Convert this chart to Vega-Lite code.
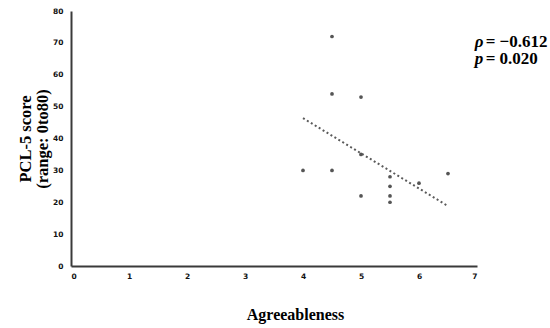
{
  "$schema": "https://vega.github.io/schema/vega-lite/v6.json",
  "autosize": "none",
  "width": 406,
  "height": 255,
  "padding": {"left": 71, "top": 11, "right": 73, "bottom": 62},
  "background": "white",
  "config": {
    "view": {"stroke": null},
    "axis": {"grid": false, "ticks": false, "labelOverlap": false, "domainColor": "#3a3a3a", "domainWidth": 2,
      "labelFont": "DejaVu Sans", "labelFontWeight": "bold", "labelFontSize": 7.5, "labelColor": "#111",
      "titleFont": "Liberation Serif", "titleFontWeight": "bold", "titleColor": "#000"},
    "axisX": {"labelPadding": 6, "titleFontSize": 16, "titleX": 224, "titleY": 53, "titleBaseline": "alphabetic", "titleAlign": "center"},
    "axisY": {"labelPadding": 8, "titleFontSize": 16.5, "titlePadding": 2, "titleLineHeight": 17}
  },
  "datasets": {
    "points": [
      {"agree": 4, "pcl": 30},
      {"agree": 4.5, "pcl": 72},
      {"agree": 4.5, "pcl": 54},
      {"agree": 4.5, "pcl": 30},
      {"agree": 5, "pcl": 53},
      {"agree": 5, "pcl": 35},
      {"agree": 5, "pcl": 22},
      {"agree": 5.5, "pcl": 28},
      {"agree": 5.5, "pcl": 25},
      {"agree": 5.5, "pcl": 22},
      {"agree": 5.5, "pcl": 20},
      {"agree": 6, "pcl": 26},
      {"agree": 6.5, "pcl": 29}
    ],
    "trend": [
      {"agree": 4, "pcl": 46.4},
      {"agree": 6.5, "pcl": 18.8}
    ]
  },
  "encoding": {
    "x": {"field": "agree", "type": "quantitative", "scale": {"domain": [0, 7], "nice": false},
      "axis": {"title": "Agreeableness", "values": [0,1,2,3,4,5,6,7], "format": "d"}},
    "y": {"field": "pcl", "type": "quantitative", "scale": {"domain": [0, 80], "nice": false},
      "axis": {"title": ["PCL-5 score", "(range: 0to80)"], "values": [0,10,20,30,40,50,60,70,80], "format": "d"}}
  },
  "layer": [
    {
      "data": {"name": "trend"},
      "mark": {"type": "line", "color": "#5a5a5a", "strokeWidth": 2, "strokeDash": [2, 2.6], "strokeCap": "butt"}
    },
    {
      "data": {"name": "points"},
      "mark": {"type": "circle", "color": "#555555", "opacity": 1, "size": 14}
    },
    {
      "data": {"values": [{"agree": 6.96, "pcl": 70.3}]},
      "mark": {"type": "text", "text": "ρ", "font": "Liberation Serif", "fontStyle": "italic", "fontWeight": "bold", "fontSize": 17, "align": "left", "baseline": "middle", "color": "#000"}
    },
    {
      "data": {"values": [{"agree": 6.96, "pcl": 70.3}]},
      "mark": {"type": "text", "text": "= −0.612", "font": "Liberation Serif", "fontWeight": "bold", "fontSize": 17, "align": "left", "baseline": "middle", "color": "#000", "dx": 11}
    },
    {
      "data": {"values": [{"agree": 6.96, "pcl": 64.8}]},
      "mark": {"type": "text", "text": "p", "font": "Liberation Serif", "fontStyle": "italic", "fontWeight": "bold", "fontSize": 17, "align": "left", "baseline": "middle", "color": "#000"}
    },
    {
      "data": {"values": [{"agree": 6.96, "pcl": 64.8}]},
      "mark": {"type": "text", "text": "= 0.020", "font": "Liberation Serif", "fontWeight": "bold", "fontSize": 17, "align": "left", "baseline": "middle", "color": "#000", "dx": 11}
    }
  ]
}
